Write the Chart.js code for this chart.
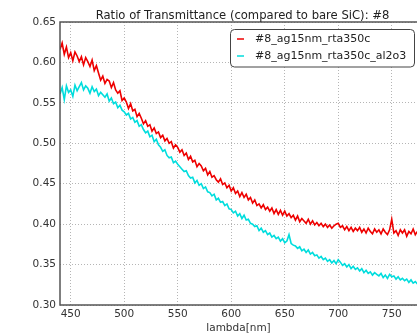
<!DOCTYPE html>
<html>
<head>
<meta charset="utf-8">
<script src="https://cdn.jsdelivr.net/npm/chart.js@4"></script>
<style>
  html, body { margin: 0; padding: 0; background: #fff; overflow: hidden; }
  #wrap { width: 417px; height: 335px; }
</style>
</head>
<body>
<div id="wrap"><canvas id="chart"></canvas></div>
<script>
// wavelengths [nm]
const lambda = [
  440,442,444,446,448,450,452,454,456,458,
  460,462,464,466,468,470,472,474,476,478,
  480,482,484,486,488,490,492,494,496,498,
  500,502,504,506,508,510,512,514,516,518,
  520,522,524,526,528,530,532,534,536,538,
  540,542,544,546,548,550,552,554,556,558,
  560,562,564,566,568,570,572,574,576,578,
  580,582,584,586,588,590,592,594,596,598,
  600,602,604,606,608,610,612,614,616,618,
  620,622,624,626,628,630,632,634,636,638,
  640,642,644,646,648,650,652,654,656,658,
  660,662,664,666,668,670,672,674,676,678,
  680,682,684,686,688,690,692,694,696,698,
  700,702,704,706,708,710,712,714,716,718,
  720,722,724,726,728,730,732,734,736,738,
  740,742,744,746,748,750,752,754,756,758,
  760,762,764,766,768,770,772,774
];

// #8_ag15nm_rta350c
const rta350c = [
  0.616,0.624,0.610,0.619,0.606,0.612,0.602,0.613,0.608,0.601,
  0.607,0.597,0.606,0.601,0.595,0.603,0.590,0.596,0.587,0.578,
  0.583,0.574,0.579,0.577,0.569,0.575,0.566,0.562,0.565,0.553,
  0.556,0.551,0.543,0.549,0.540,0.542,0.533,0.537,0.531,0.524,
  0.528,0.521,0.523,0.515,0.519,0.512,0.514,0.507,0.510,0.503,
  0.506,0.500,0.502,0.494,0.498,0.495,0.489,0.492,0.485,0.488,
  0.480,0.484,0.477,0.479,0.471,0.475,0.472,0.466,0.469,0.461,
  0.465,0.458,0.460,0.455,0.452,0.456,0.449,0.451,0.445,0.448,
  0.441,0.445,0.438,0.441,0.434,0.439,0.433,0.437,0.430,0.433,
  0.426,0.430,0.423,0.425,0.420,0.424,0.418,0.421,0.416,0.420,
  0.413,0.418,0.412,0.417,0.411,0.416,0.410,0.413,0.408,0.411,
  0.405,0.410,0.403,0.407,0.404,0.401,0.406,0.400,0.404,0.399,
  0.402,0.398,0.401,0.397,0.400,0.396,0.399,0.395,0.398,0.400,
  0.401,0.396,0.398,0.393,0.397,0.392,0.396,0.391,0.395,0.392,
  0.396,0.390,0.394,0.389,0.395,0.391,0.388,0.394,0.390,0.393,
  0.388,0.394,0.390,0.387,0.393,0.406,0.389,0.392,0.386,0.393,
  0.389,0.393,0.385,0.391,0.388,0.394,0.387,0.391
];

// #8_ag15nm_rta350c_al2o3
const rta350cAl2o3 = [
  0.561,0.569,0.554,0.571,0.563,0.566,0.558,0.572,0.565,0.570,
  0.575,0.566,0.571,0.568,0.562,0.570,0.564,0.567,0.559,0.563,
  0.560,0.557,0.561,0.552,0.556,0.549,0.551,0.544,0.547,0.541,
  0.539,0.535,0.537,0.530,0.532,0.526,0.528,0.521,0.523,0.517,
  0.513,0.515,0.508,0.510,0.502,0.505,0.498,0.495,0.490,0.492,
  0.485,0.482,0.483,0.476,0.478,0.474,0.471,0.468,0.465,0.466,
  0.460,0.457,0.458,0.451,0.454,0.448,0.450,0.444,0.446,0.440,
  0.439,0.435,0.437,0.430,0.432,0.427,0.428,0.423,0.425,0.419,
  0.418,0.414,0.416,0.410,0.413,0.407,0.411,0.405,0.406,0.401,
  0.400,0.397,0.398,0.392,0.395,0.390,0.392,0.387,0.389,0.384,
  0.386,0.382,0.384,0.379,0.382,0.377,0.379,0.387,0.376,0.374,
  0.373,0.370,0.372,0.367,0.369,0.365,0.368,0.363,0.365,0.361,
  0.362,0.358,0.360,0.356,0.358,0.354,0.356,0.352,0.355,0.351,
  0.356,0.353,0.349,0.351,0.347,0.350,0.345,0.348,0.344,0.346,
  0.342,0.345,0.340,0.343,0.339,0.341,0.337,0.340,0.338,0.336,
  0.339,0.334,0.337,0.333,0.338,0.335,0.336,0.332,0.335,0.331,
  0.333,0.330,0.332,0.328,0.331,0.327,0.329,0.326
];

const xTicks = [450, 500, 550, 600, 650, 700, 750];
const yTicks = [0.30, 0.35, 0.40, 0.45, 0.50, 0.55, 0.60, 0.65];

const seriesNames = ["#8_ag15nm_rta350c", "#8_ag15nm_rta350c_al2o3"];
const seriesColors = ["#ee0000", "#00dddd"];
const titleText = "Ratio of Transmittance (compared to bare SiC): #8";

const FONT = "'DejaVu Sans', 'Liberation Sans', sans-serif";

/* title, spines and legend box, drawn the matplotlib way */
const decor = {
  id: "decor",
  afterDatasetsDraw(chart) {
    const { ctx, chartArea: a } = chart;
    ctx.save();
    // spines
    ctx.strokeStyle = "#555";
    ctx.lineWidth = 1.5;
    ctx.beginPath();
    ctx.moveTo(a.right + 2, a.top);
    ctx.lineTo(a.left, a.top);
    ctx.lineTo(a.left, a.bottom);
    ctx.lineTo(a.right + 2, a.bottom);
    ctx.stroke();

    // title
    ctx.fillStyle = "#222";
    ctx.font = "11.6px " + FONT;
    ctx.textAlign = "center";
    ctx.textBaseline = "middle";
    ctx.fillText(titleText, 242.5, 15.5);

    // legend
    ctx.beginPath();
    ctx.roundRect(230.5, 29.5, 184, 37.5, 4);
    ctx.fillStyle = "#fff";
    ctx.fill();
    ctx.strokeStyle = "#444";
    ctx.lineWidth = 1;
    ctx.stroke();
    ctx.font = "11px " + FONT;
    ctx.textAlign = "left";
    seriesNames.forEach((name, i) => {
      const y = 39 + i * 17;
      ctx.strokeStyle = seriesColors[i];
      ctx.lineWidth = 1.5;
      ctx.beginPath();
      ctx.moveTo(237, y);
      ctx.lineTo(244, y);
      ctx.stroke();
      ctx.fillStyle = "#222";
      ctx.fillText(name, 255, y);
    });
    ctx.restore();
  }
};

const ctx = document.getElementById("chart").getContext("2d");

new Chart(ctx, {
  type: "line",
  data: {
    datasets: [rta350c, rta350cAl2o3].map((vals, i) => ({
      label: seriesNames[i],
      data: lambda.map((l, j) => ({ x: l, y: vals[j] })),
      borderColor: seriesColors[i],
      borderWidth: 1.6,
      pointRadius: 0,
      tension: 0,
      fill: false
    }))
  },
  options: {
    responsive: true,
    maintainAspectRatio: false,
    animation: false,
    layout: { padding: { top: 22, left: 0, right: 0, bottom: 0 } },
    plugins: {
      legend: { display: false },
      title: { display: false },
      tooltip: { enabled: false }
    },
    scales: {
      x: {
        type: "linear",
        min: 440,
        max: 773.6,
        afterBuildTicks: s => { s.ticks = xTicks.map(v => ({ value: v })); },
        afterFit: s => { s.height = 30; },
        grid: { color: "#b5b5b5", lineWidth: 1, drawTicks: false, borderDash: [1, 2] },
        border: { display: false, dash: [1, 2] },
        ticks: {
          padding: 3,
          color: "#333",
          font: { family: FONT, size: 10.5 },
          maxRotation: 0,
          callback: v => String(v)
        },
        title: {
          display: true,
          text: "lambda[nm]",
          color: "#333",
          font: { family: FONT, size: 10.5 },
          padding: { top: 0, bottom: 0 }
        }
      },
      y: {
        min: 0.30,
        max: 0.65,
        afterBuildTicks: s => { s.ticks = yTicks.map(v => ({ value: v })); },
        afterFit: s => { s.width = 60; },
        grid: { color: "#b5b5b5", lineWidth: 1, drawTicks: false, borderDash: [1, 2] },
        border: { display: false, dash: [1, 2] },
        ticks: {
          padding: 4,
          color: "#333",
          font: { family: FONT, size: 10.5 },
          callback: v => v.toFixed(2)
        }
      }
    }
  },
  plugins: [decor]
});
</script>
</body>
</html>
